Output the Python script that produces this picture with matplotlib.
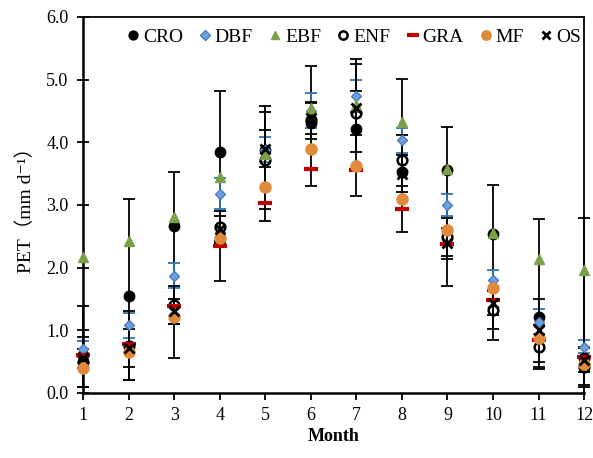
import numpy as np
import matplotlib
matplotlib.use("Agg")
import matplotlib.pyplot as plt
from matplotlib.lines import Line2D

plt.rcParams['font.family'] = ['Liberation Serif', 'DejaVu Serif', 'Noto Sans CJK SC']

months = np.arange(1, 13)

cro = [0.60, 1.55, 2.67, 3.85, 3.88, 4.30, 4.21, 3.52, 3.55, 2.53, 1.21, 0.55]
dbf = [0.70, 1.08, 1.87, 3.18, 3.88, 4.50, 4.74, 4.03, 3.00, 1.81, 1.14, 0.74]
ebf = [2.17, 2.43, 2.80, 3.44, 3.82, 4.54, 4.60, 4.33, 3.57, 2.55, 2.13, 1.96]
enf = [0.50, 0.75, 1.40, 2.65, 3.71, 4.35, 4.47, 3.71, 2.49, 1.32, 0.74, 0.42]
gra = [0.60, 0.78, 1.38, 2.35, 3.03, 3.57, 3.56, 2.93, 2.38, 1.48, 0.85, 0.58]
mf = [0.40, 0.65, 1.22, 2.47, 3.28, 3.89, 3.62, 3.09, 2.60, 1.68, 0.87, 0.47]
os_ = [0.55, 0.72, 1.30, 2.62, 3.90, 4.38, 4.55, 3.50, 2.39, 1.44, 1.00, 0.53]

# error bars (CRO asymmetric, others symmetric)
cro_err_lo = [0.50, 1.35, 2.12, 2.06, 1.13, 0.99, 1.06, 0.95, 1.85, 1.68, 0.80, 0.45]
cro_err_hi = [0.79, 1.55, 0.85, 0.97, 0.70, 0.92, 1.12, 1.49, 0.70, 0.79, 1.57, 2.24]
dbf_err = [0.13, 0.20, 0.20, 0.25, 0.20, 0.28, 0.26, 0.20, 0.18, 0.16, 0.20, 0.10]
enf_err = [0.40, 0.55, 0.30, 0.25, 0.78, 0.30, 0.35, 0.40, 0.30, 0.30, 0.35, 0.30]
os_err = [0.15, 0.30, 0.20, 0.20, 0.30, 0.25, 0.70, 0.30, 0.25, 0.20, 0.50, 0.20]

fig = plt.figure(figsize=(5.93, 4.58), dpi=100)
ax = fig.add_axes([0.14, 0.142, 0.845, 0.821])

eb = dict(capsize=4.5, elinewidth=1.3, capthick=1.3, linestyle='none')

# style per series: (marker, face, edge, size, mew)
styles = {
    'CRO': ('o', 'black', 'black', 7.5, 1),
    'DBF': ('D', '#6f9fdc', '#4a7cc0', 5.5, 1),
    'EBF': ('^', '#7aa04a', '#7aa04a', 7.5, 1),
    'ENF': ('o', 'none', 'black', 7, 1.8),
    'GRA': ('_', '#c00000', '#c00000', 10, 3),
    'MF': ('o', '#e08a3c', '#e08a3c', 8, 1),
    'OS': ('x', 'black', 'black', 6.5, 2),
}

def draw(vals, name, err=None, ecolor='black', z=4):
    m, fc, ec, ms, mew = styles[name]
    if err is not None:
        cont = ax.errorbar(months, vals, yerr=err, fmt='none', ecolor=ecolor, zorder=2, **eb)
        for art in cont.lines[1] + cont.lines[2]:
            art.set_clip_on(False)
    ax.plot(months, vals, linestyle='none', marker=m, mfc=fc, mec=ec, ms=ms, mew=mew,
            zorder=z, clip_on=False)

draw(cro, 'CRO', [cro_err_lo, cro_err_hi], z=3)
draw(dbf, 'DBF', dbf_err, ecolor='#2e75b6', z=4)
draw(ebf, 'EBF', z=5)
draw(enf, 'ENF', enf_err, z=4)
draw(gra, 'GRA', z=5)
draw(mf, 'MF', z=5)
draw(os_, 'OS', os_err, z=6)

ax.set_xlim(1, 12)
ax.set_ylim(0, 6)
ax.set_xticks(months)
ax.set_yticks(np.arange(0, 6.1, 1.0))
ax.set_yticklabels(['%.1f' % v for v in np.arange(0, 6.1, 1.0)])
ax.tick_params(axis='y', direction='inout', length=9, width=1.3, labelsize=13, pad=6)
ax.tick_params(axis='x', direction='out', length=5, width=1.3, labelsize=13, pad=5)
for s in ax.spines.values():
    s.set_linewidth(1.3)
ax.spines['bottom'].set_linewidth(1.8)
ax.spines['left'].set_linewidth(1.8)

ax.set_xlabel('Month', fontsize=13, fontweight='bold', labelpad=3)
ax.set_ylabel('PET（mm d⁻¹）', fontsize=14, labelpad=8)

handles = []
for name in ['CRO', 'DBF', 'EBF', 'ENF', 'GRA', 'MF', 'OS']:
    m, fc, ec, ms, mew = styles[name]
    handles.append(Line2D([], [], linestyle='none', marker=m, mfc=fc, mec=ec,
                          ms=ms * 0.85, mew=mew, label=name))
ax.legend(handles=handles, loc='upper center', bbox_to_anchor=(0.54, 1.0), ncol=7,
          frameon=False, fontsize=14, handlelength=0.7, handletextpad=0.15,
          columnspacing=0.8, borderaxespad=0.2)

fig.savefig('out.png', dpi=100)
